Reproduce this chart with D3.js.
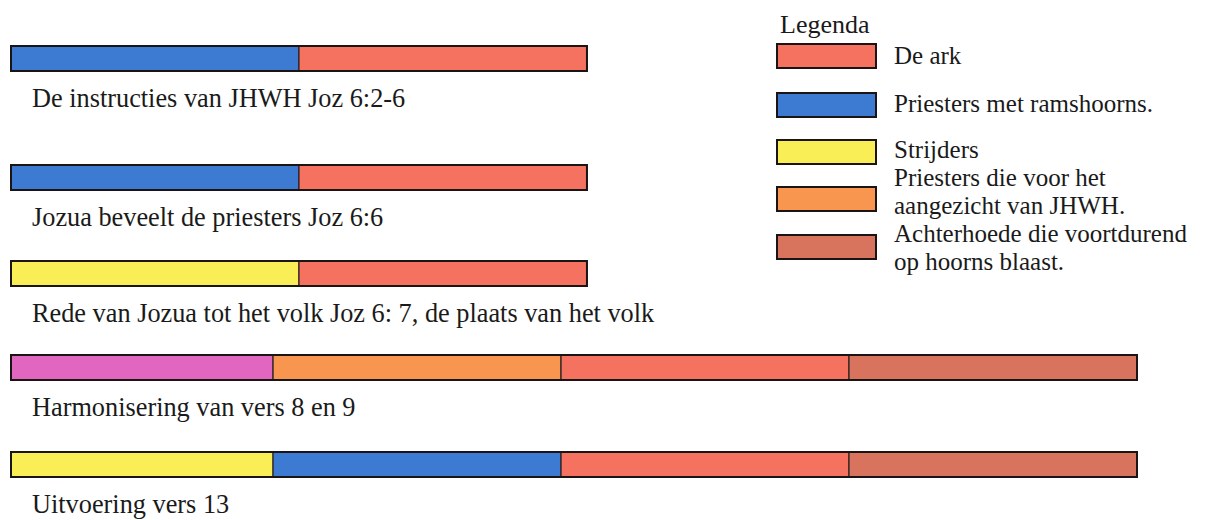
<!DOCTYPE html>
<head>
  <meta charset="utf-8">
  <script src="https://d3js.org/d3.v7.min.js"></script>
  <style>
    body { margin: 0; background: #fff; }
  </style>
</head>

<body>
  <div id="chart"></div>
</body>

<script>

// rows of the diagram, segments in order from left to right
var rows = ["De instructies van JHWH Joz 6:2-6",
            "Jozua beveelt de priesters Joz 6:6",
            "Rede van Jozua tot het volk Joz 6: 7, de plaats van het volk",
            "Harmonisering van vers 8 en 9",
            "Uitvoering vers 13"];

var segGroups = [
  ["priesters", "ark"],
  ["priesters", "ark"],
  ["strijders", "ark"],
  ["voorhoede", "aangezicht", "ark", "achterhoede"],
  ["strijders", "priesters", "ark", "achterhoede"]
];

// relative length of each segment (one unit = one full block)
var segLengths = [
  [1, 1],
  [1, 1],
  [1, 1],
  [0.91, 1, 1, 1],
  [0.91, 1, 1, 1]
];

var legendKeys = ["ark", "priesters", "strijders", "aangezicht", "achterhoede"];
var legendLabels = [
  ["De ark"],
  ["Priesters met ramshoorns."],
  ["Strijders"],
  ["Priesters die voor het", "aangezicht van JHWH."],
  ["Achterhoede die voortdurend", "op hoorns blaast."]
];

var width = 1212, height = 520;
var serif = "'Liberation Serif', 'Times New Roman', Times, serif";

var svg = d3.select("#chart")
  .append("svg")
    .attr("width", width)
    .attr("height", height)
    .attr("font-family", serif);

var color = d3.scaleOrdinal()
  .domain(["ark", "priesters", "strijders", "aangezicht", "achterhoede", "voorhoede"])
  .range(["#f4725f", "#3d7bd3", "#f9ee55", "#f8954f", "#d8735e", "#e066c0"]);

// x: units along the procession
var x = d3.scaleLinear()
  .domain([0, 3.91])
  .range([11, 1137]);

// y: top of each bar (rows are not evenly spaced in the original)
var y = d3.scaleOrdinal()
  .domain(rows)
  .range([46, 165, 261, 355, 452]);

var barH = 25;

rows.forEach(function(name, i) {
  var g = svg.append("g");
  var start = 0;
  var segs = segGroups[i].map(function(k, j) {
    var s = {key: k, x0: start, x1: start + segLengths[i][j]};
    start = s.x1;
    return s;
  });

  g.selectAll("rect.seg")
    .data(segs)
    .enter()
    .append("rect")
      .attr("class", "seg")
      .attr("x", function(d) { return x(d.x0); })
      .attr("y", y(name))
      .attr("width", function(d) { return x(d.x1) - x(d.x0); })
      .attr("height", barH)
      .style("fill", function(d) { return color(d.key); })
      .style("stroke", "#2a2020")
      .style("stroke-width", 1.2);

  // outer frame
  g.append("rect")
    .attr("x", x(0))
    .attr("y", y(name))
    .attr("width", x(start) - x(0))
    .attr("height", barH)
    .style("fill", "none")
    .style("stroke", "#1a1414")
    .style("stroke-width", 2);

  g.append("text")
    .attr("x", 32)
    .attr("y", y(name) + barH + 36)
    .style("font-family", serif)
    .style("font-size", "26.3px")
    .style("fill", "#1a1a1a")
    .text(name);
});

// legend
var legend = svg.append("g").attr("transform", "translate(777,0)");

legend.append("text")
  .attr("x", 3)
  .attr("y", 33)
  .style("font-family", serif)
  .style("font-size", "26px")
  .style("fill", "#1a1a1a")
  .text("Legenda");

// swatch tops and first text baselines
var ly = d3.scaleOrdinal()
  .domain(legendKeys)
  .range([44, 93, 140, 187, 235]);
var lt = d3.scaleOrdinal()
  .domain(legendKeys)
  .range([64, 112, 158, 186, 242]);

var item = legend.selectAll("g.item")
  .data(legendKeys)
  .enter()
  .append("g")
    .attr("class", "item");

item.append("rect")
  .attr("x", 0)
  .attr("y", function(d) { return ly(d); })
  .attr("width", 99)
  .attr("height", 24)
  .style("fill", function(d) { return color(d); })
  .style("stroke", "#1a1414")
  .style("stroke-width", 2);

item.each(function(d, i) {
  d3.select(this).selectAll("text")
    .data(legendLabels[i])
    .enter()
    .append("text")
      .attr("x", 117)
      .attr("y", function(t, k) { return lt(d) + k * 28; })
      .style("font-family", serif)
      .style("font-size", "25px")
      .style("fill", "#1a1a1a")
      .text(function(t) { return t; });
});

</script>
